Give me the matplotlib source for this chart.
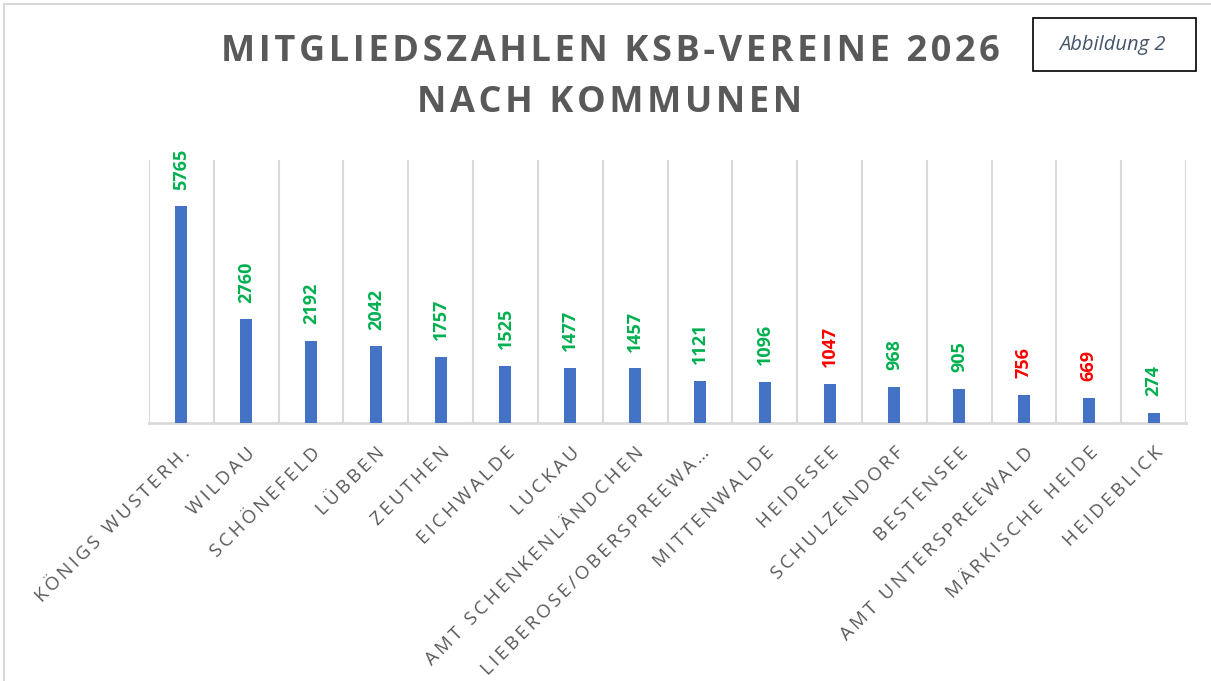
import matplotlib

matplotlib.use("Agg")
import matplotlib.pyplot as plt
from matplotlib.lines import Line2D
from matplotlib.patches import Rectangle

plt.rcParams["font.family"] = ["Open Sans", "DejaVu Sans"]

# --- data ---
kommunen = [
    "KÖNIGS WUSTERH.", "WILDAU", "SCHÖNEFELD", "LÜBBEN", "ZEUTHEN",
    "EICHWALDE", "LUCKAU", "AMT SCHENKENLÄNDCHEN", "LIEBEROSE/OBERSPREEWA…",
    "MITTENWALDE", "HEIDESEE", "SCHULZENDORF", "BESTENSEE",
    "AMT UNTERSPREEWALD", "MÄRKISCHE HEIDE", "HEIDEBLICK",
]
mitglieder = [5765, 2760, 2192, 2042, 1757, 1525, 1477, 1457, 1121,
              1096, 1047, 968, 905, 756, 669, 274]
# value labels: red = decline, green = growth
rueckgang = ["HEIDESEE", "AMT UNTERSPREEWALD", "MÄRKISCHE HEIDE"]

BAR = "#4472C4"
GREEN = "#00B050"
RED = "#FF0000"
GREY = "#595959"
GRID = "#D9D9D9"


def spaced(s, sep="\u2009"):
    # poor man's letter spacing, Excel style
    return sep.join(s)


fig = plt.figure(figsize=(12.11, 6.81), dpi=100)
ax = fig.add_axes([149 / 1211, 1 - 423 / 681, (1186 - 149) / 1211, (423 - 160) / 681])

x = range(len(kommunen))
ax.bar(x, mitglieder, width=0.185, color=BAR, zorder=3)

for i, (name, v) in enumerate(zip(kommunen, mitglieder)):
    ax.annotate(str(v), (i, v), xytext=(0, 12), textcoords="offset points",
                rotation=90, ha="center", va="bottom", fontsize=13,
                fontweight="bold", color=RED if name in rueckgang else GREEN)

ax.set_xlim(-0.5, len(kommunen) - 0.5)
ax.set_ylim(0, 7000)
ax.set_yticks([])
ax.set_xticks(list(x), [spaced(k) for k in kommunen], rotation=45,
              ha="right", va="top", rotation_mode="anchor",
              fontsize=13.5, color=GREY)
ax.tick_params(axis="x", length=0, pad=15)
ax.set_xticks([i - 0.5 for i in range(len(kommunen) + 1)], minor=True)
ax.tick_params(axis="x", which="minor", length=0)
ax.grid(axis="x", which="minor", color=GRID, lw=1.5, zorder=0)
ax.grid(axis="x", which="major", visible=False)
for side in ("left", "right", "top"):
    ax.spines[side].set_visible(False)
ax.spines["bottom"].set_color(GRID)
ax.spines["bottom"].set_linewidth(2)

fig.text(610 / 1211, 1 - 52 / 681, spaced("MITGLIEDSZAHLEN KSB-VEREINE 2026", "\u200a"),
         ha="center", va="center", fontsize=26, fontweight="bold", color=GREY)
fig.text(610 / 1211, 1 - 103 / 681, spaced("NACH KOMMUNEN", "\u200a"),
         ha="center", va="center", fontsize=26, fontweight="bold", color=GREY)

# "Abbildung 2" box
fig.add_artist(Rectangle((1033 / 1211, 1 - 71 / 681), 163 / 1211, 53 / 681,
                         transform=fig.transFigure, fill=False,
                         edgecolor="black", lw=1.2))
fig.text(1112 / 1211, 1 - 45 / 681, "Abbildung 2", ha="center", va="center",
         fontsize=14.5, style="italic", color="#44546A")

# chart frame
fig.add_artist(Line2D([4 / 1211, 4 / 1211], [0, 1 - 4 / 681], color=GRID, lw=1.5))
fig.add_artist(Line2D([4 / 1211, 1], [1 - 4 / 681, 1 - 4 / 681], color=GRID, lw=1.5))

fig.savefig("out.png", dpi=100)
